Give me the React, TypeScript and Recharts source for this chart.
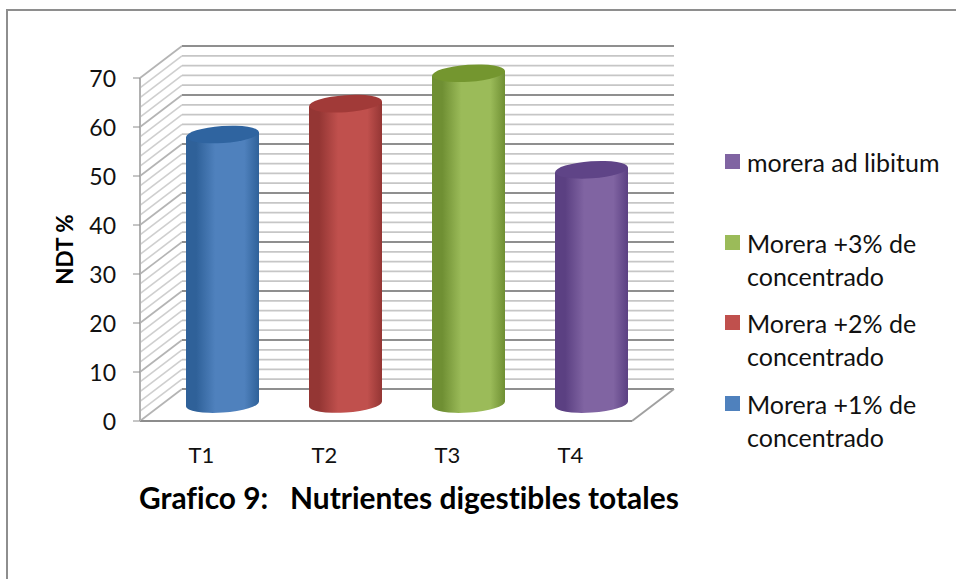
import { BarChart, Bar, XAxis, YAxis, Cell, Legend, ReferenceLine, Label } from 'recharts';

// Chart depth: how far the back wall sits behind the front plane
const DEPTH_X = 42;
const DEPTH_Y = 32;

const categories = ['T1', 'T2', 'T3', 'T4'];
const values = [55.2, 61.5, 67.7, 48];
const treatments = [
  'Morera +1% de concentrado',
  'Morera +2% de concentrado',
  'Morera +3% de concentrado',
  'morera ad libitum',
];
const colors = ['#4f81bd', '#c0504d', '#9bbb59', '#8064a2'];
const darkColors = ['#2f6199', '#943634', '#6f8f33', '#5b4082'];
const topColors = ['#2f64a0', '#a13a38', '#74962f', '#5f4487'];
const yTicks = [0, 10, 20, 30, 40, 50, 60, 70];
const minorTicks = [2, 4, 6, 8, 12, 14, 16, 18, 22, 24, 26, 28, 32, 34, 36, 38, 42, 44, 46, 48, 52, 54, 56, 58, 62, 64, 66, 68];

const data = categories.map((name, i) => ({ name, value: values[i], treatment: treatments[i] }));

const FONT = 'Lato, "Open Sans", sans-serif';

// Draws one level of the wall: slanted part on the left, straight part along the back
function WallLine({ x1, x2, y1, major, level }: any) {
  const backY = y1 - DEPTH_Y;
  return (
    <g>
      <line x1={x1} y1={y1} x2={x1 + DEPTH_X} y2={backY} stroke={major ? '#b4b4b4' : '#cfcfcf'} strokeWidth={1.6} />
      <line x1={x1 + DEPTH_X} y1={backY} x2={x2 + DEPTH_X} y2={backY} stroke={major ? '#8f8f8f' : '#c6c6c6'} strokeWidth={major ? 2 : 1.8} />
      {level === 0 && <line x1={x2} y1={y1} x2={x2 + DEPTH_X} y2={backY} stroke="#a0a0a0" strokeWidth={2} />}
    </g>
  );
}

// Cylinder standing in the middle of the floor depth
function Cylinder({ x, y, width, height, index }: any) {
  const cx = x + width / 2 + DEPTH_X / 2;
  const rx = width / 2;
  const ry = 8.5;
  const tilt = 2.5;
  const top = y - DEPTH_Y / 2;
  const bottom = y + height - DEPTH_Y / 2 - 1;
  const left = cx - rx;
  const right = cx + rx;
  const body = `M${left},${top + tilt} L${left},${bottom + tilt} A${rx},${ry} -4 0 0 ${right},${bottom - tilt} L${right},${top - tilt} Z`;
  return (
    <g>
      <path d={body} fill={`url(#cyl${index})`} />
      <ellipse cx={cx} cy={top} rx={rx} ry={ry} fill={topColors[index]} transform={`rotate(-4 ${cx} ${top})`} />
    </g>
  );
}

function LegendList() {
  const order = [3, 2, 1, 0];
  const tops = [154, 235, 315, 396];
  return (
    <div style={{ position: 'relative', width: 230, height: 320 }}>
      {order.map((idx, i) => (
        <div key={idx} style={{ position: 'absolute', left: 0, top: tops[i] - 140 - 8, display: 'flex', alignItems: 'flex-start', fontFamily: FONT, fontSize: 25, lineHeight: '33px', color: '#111', fontVariantLigatures: 'none' }}>
          <span style={{ width: 15, height: 15, background: colors[idx], marginTop: 8, marginRight: 7, flex: 'none' }} />
          <span style={{ width: 200 }}>{treatments[idx]}</span>
        </div>
      ))}
    </div>
  );
}

export default function App() {
  return (
    <div style={{ position: 'absolute', left: 0, top: 0, width: 956, height: 579, background: '#fff', overflow: 'hidden' }}>
      <div style={{ position: 'absolute', left: 6, top: 9, width: 960, height: 600, borderLeft: '2px solid #8e8e8e', borderTop: '2px solid #8e8e8e' }} />
      <BarChart
        width={956}
        height={579}
        data={data}
        margin={{ top: 78, right: 94, bottom: 118, left: 80 }}
        style={{ position: 'absolute', left: 0, top: 0 }}
      >
        <defs>
          {colors.map((c, i) => (
            <linearGradient key={c} id={`cyl${i}`} x1="0" y1="0" x2="1" y2="0">
              <stop offset="0" stopColor={darkColors[i]} />
              <stop offset="0.14" stopColor={darkColors[i]} />
              <stop offset="0.4" stopColor={c} />
              <stop offset="0.8" stopColor={c} />
              <stop offset="1" stopColor={darkColors[i]} />
            </linearGradient>
          ))}
        </defs>
        <XAxis
          dataKey="name"
          height={40}
          tickLine={false}
          axisLine={{ stroke: '#8c8c8c', strokeWidth: 2 }}
          tick={{ fontFamily: FONT, fontSize: 22, fill: '#111' }}
          tickMargin={20}
        />
        <YAxis
          width={60}
          domain={[0, 70]}
          ticks={yTicks}
          interval={0}
          tickSize={7}
          tickLine={{ stroke: '#8c8c8c' }}
          axisLine={{ stroke: '#b0b0b0', strokeWidth: 2 }}
          tick={{ fontFamily: FONT, fontSize: 23, fill: '#111', dy: 1 }}
          tickMargin={17}
        >
          <Label
            value="NDT %"
            angle={-90}
            position="insideLeft"
            offset={-15}
            style={{ fontFamily: FONT, fontSize: 22.5, fontWeight: 700, fill: '#000', textAnchor: 'middle' }}
          />
        </YAxis>
        {minorTicks.map((t) => (
          <ReferenceLine key={t} y={t} stroke="none" zIndex={100} shape={(p: any) => <WallLine {...p} major={false} level={t} />} />
        ))}
        {yTicks.map((t) => (
          <ReferenceLine key={t} y={t} stroke="none" zIndex={100} shape={(p: any) => <WallLine {...p} major level={t} />} />
        ))}
        <Legend
          layout="vertical"
          align="right"
          verticalAlign="top"
          content={() => <LegendList />}
          wrapperStyle={{ left: 725, top: 140, width: 230 }}
        />
        <Bar dataKey="value" isAnimationActive={false} barSize={73} zIndex={500} shape={(p: any) => <Cylinder {...p} />}>
          {data.map((d, i) => (
            <Cell key={d.name} fill={colors[i]} />
          ))}
        </Bar>
      </BarChart>
      <div style={{ position: 'absolute', left: 139, top: 479, fontFamily: FONT, fontSize: 29.9, fontWeight: 700, color: '#000', whiteSpace: 'pre', fontVariantLigatures: 'none' }}>
        {'Grafico 9:   Nutrientes digestibles totales'}
      </div>
    </div>
  );
}
